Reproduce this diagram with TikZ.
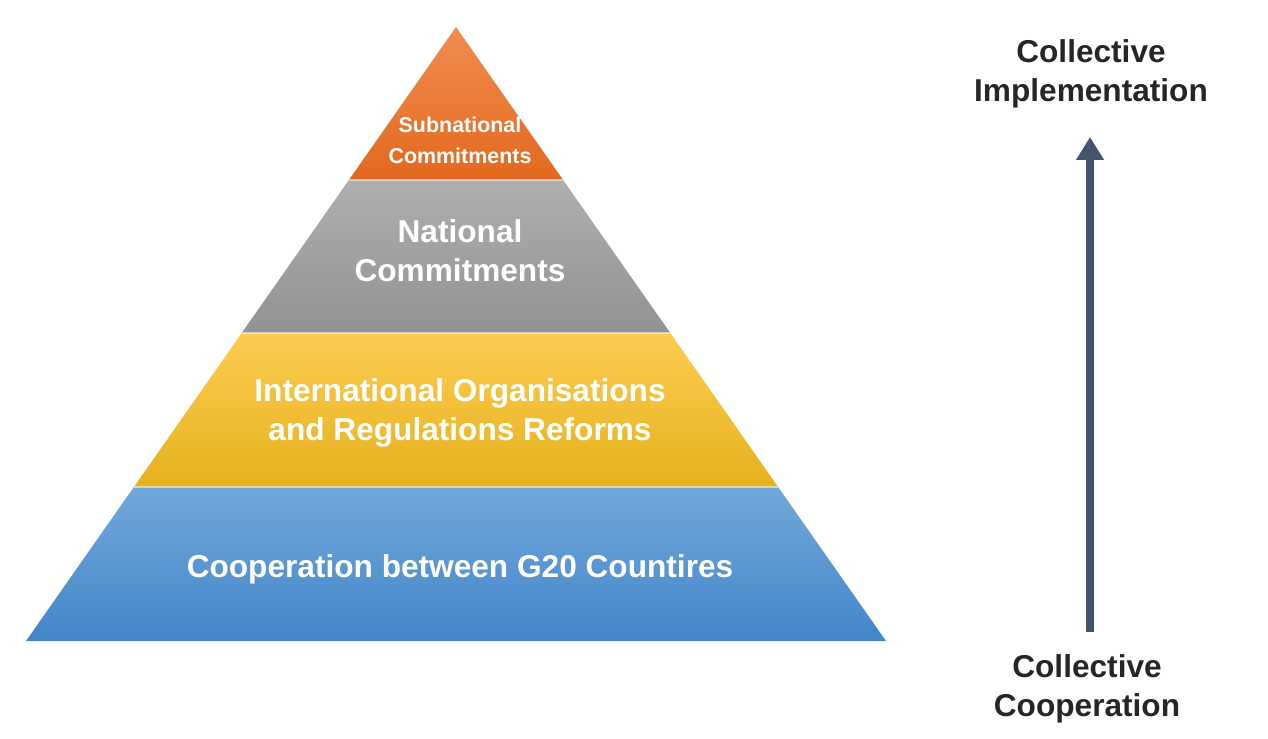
\documentclass[tikz,border=0pt]{standalone}
\usepackage{fontspec}
\setmainfont{Liberation Sans}
\usetikzlibrary{arrows.meta}
\definecolor{subtop}{RGB}{241,141,80}
\definecolor{subbot}{RGB}{227,104,30}
\definecolor{nattop}{RGB}{175,175,175}
\definecolor{natbot}{RGB}{146,146,146}
\definecolor{inttop}{RGB}{252,204,80}
\definecolor{intmid}{RGB}{251,196,18}
\definecolor{intbot}{RGB}{230,177,30}
\definecolor{cooptop}{RGB}{114,168,219}
\definecolor{coopbot}{RGB}{66,134,201}
\definecolor{arrowgray}{RGB}{68,84,106}
\definecolor{labeltext}{RGB}{38,38,38}

\begin{document}
\begin{tikzpicture}[x=0.02cm,y=-0.02cm,
  bandtext/.style={text=white,font=\bfseries\fontsize{18}{22}\selectfont,align=center,inner sep=0pt},
  sidetext/.style={text=labeltext,font=\bfseries\fontsize{18}{22}\selectfont,align=center,inner sep=0pt}]
  \useasboundingbox (0,0) rectangle (1268,739);
  \def\apx{456};
  \def\ya{27};
  \def\yb{180};
  \def\yc{333};
  \def\yd{487};
  \def\ye{641};
  % half widths of the pyramid at each seam
  \def\hwb{107.1};
  \def\hwc{214.3};
  \def\hwd{322.1};
  \def\hwe{430};
  % pyramid bands, top to bottom
  \shade[top color=subtop,bottom color=subbot] (\apx,\ya)
        --(\apx+\hwb,\yb)--(\apx-\hwb,\yb)--cycle;
  \shade[top color=nattop,bottom color=natbot] (\apx-\hwb,\yb)
        --(\apx+\hwb,\yb)--(\apx+\hwc,\yc)--(\apx-\hwc,\yc)--cycle;
  \shade[top color=inttop,middle color=intmid,bottom color=intbot] (\apx-\hwc,\yc)
        --(\apx+\hwc,\yc)--(\apx+\hwd,\yd)--(\apx-\hwd,\yd)--cycle;
  \shade[top color=cooptop,bottom color=coopbot] (\apx-\hwd,\yd)
        --(\apx+\hwd,\yd)--(\apx+\hwe,\ye)--(\apx-\hwe,\ye)--cycle;
  % thin seams between the bands
  \draw[white,opacity=0.5,line width=0.6pt] (\apx-\hwb,\yb)--(\apx+\hwb,\yb);
  \draw[white,opacity=0.5,line width=0.6pt] (\apx-\hwc,\yc)--(\apx+\hwc,\yc);
  \draw[white,opacity=0.5,line width=0.6pt] (\apx-\hwd,\yd)--(\apx+\hwd,\yd);
  \node[bandtext,font=\bfseries\fontsize{12.2}{17.5}\selectfont] (subnat) at (\apx+4,140) {Subnational\\Commitments};
  \node[bandtext] (nat) at (\apx+4,251) {National\\Commitments};
  \node[bandtext] (intorg) at (\apx+4,413) {International Organisations\\and Regulations Reforms};
  \node[bandtext,anchor=base] (coop) at (\apx+4,578) {Cooperation between G20 Countires};
  % side labels and arrow
  \node[sidetext] (implem) at (1091,74) {Collective\\Implementation};
  \node[sidetext] (collcoop) at (1087,689) {Collective\\Cooperation};
  \coordinate (arrowfoot) at (1090,632);
  \coordinate (arrowtip) at (1090,137);
  \draw[arrowgray,line width=4.5pt,-{Triangle[width=15pt,length=13pt]}] (arrowfoot)--(arrowtip);
\end{tikzpicture}
\end{document}
